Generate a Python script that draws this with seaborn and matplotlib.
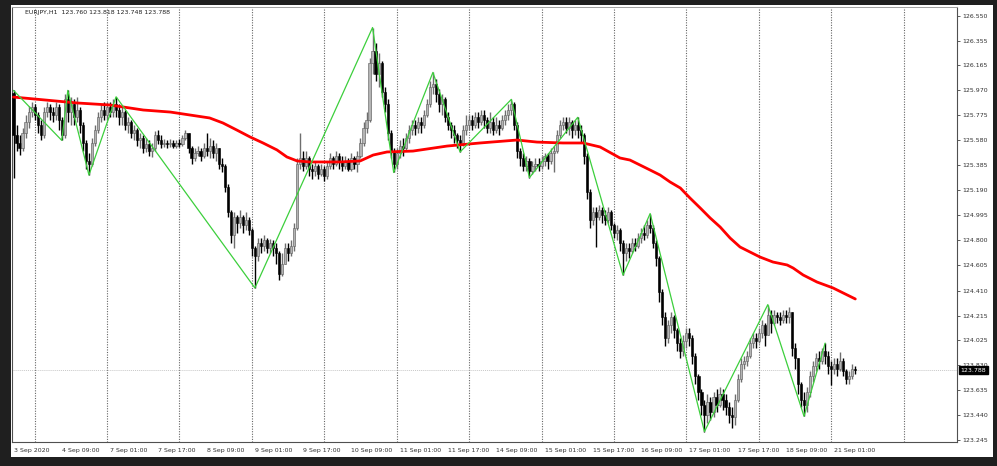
import matplotlib
matplotlib.use("Agg")
import matplotlib.pyplot as plt
import matplotlib.patches as mpatches
import matplotlib.transforms as mtransforms
import numpy as np
import pandas as pd
import seaborn as sns

# EURJPY H1 bars
first_open = 125.95
close = [
    125.62, 125.56, 125.52, 125.64, 125.72, 125.80, 125.84, 125.78, 125.70, 125.62,
    125.80, 125.84, 125.80, 125.78, 125.84, 125.74, 125.62, 125.90, 125.80, 125.86,
    125.76, 125.82, 125.70, 125.56, 125.42, 125.40, 125.56, 125.66, 125.76, 125.82,
    125.78, 125.84, 125.80, 125.86, 125.82, 125.76, 125.80, 125.70, 125.72, 125.64,
    125.66, 125.58, 125.60, 125.52, 125.55, 125.50, 125.52, 125.62, 125.58, 125.55,
    125.56, 125.55, 125.56, 125.54, 125.56, 125.55, 125.60, 125.64, 125.52, 125.44,
    125.48, 125.50, 125.46, 125.52, 125.50, 125.54, 125.48, 125.52, 125.40, 125.38,
    125.22, 125.02, 124.84, 124.98, 124.94, 124.98, 124.92, 124.96, 124.88, 124.74,
    124.68, 124.78, 124.76, 124.80, 124.74, 124.78, 124.74, 124.70, 124.54, 124.62,
    124.74, 124.70, 124.76, 124.90, 125.40, 125.44, 125.38, 125.44, 125.36, 125.34,
    125.38, 125.32, 125.36, 125.30, 125.38, 125.44, 125.40, 125.46, 125.42, 125.38,
    125.42, 125.36, 125.44, 125.40, 125.46, 125.56, 125.68, 125.74, 126.18, 126.28,
    126.10, 126.18, 125.96, 125.86, 125.64, 125.50, 125.40, 125.48, 125.54, 125.52,
    125.60, 125.66, 125.70, 125.68, 125.72, 125.70, 125.78, 125.86, 126.00, 126.02,
    125.94, 125.86, 125.90, 125.76, 125.70, 125.66, 125.62, 125.58, 125.56, 125.66,
    125.70, 125.74, 125.70, 125.76, 125.72, 125.78, 125.74, 125.68, 125.72, 125.66,
    125.70, 125.68, 125.74, 125.78, 125.82, 125.86, 125.70, 125.50, 125.44, 125.38,
    125.42, 125.34, 125.38, 125.40, 125.38, 125.42, 125.46, 125.42, 125.48, 125.50,
    125.62, 125.70, 125.72, 125.68, 125.72, 125.66, 125.70, 125.66, 125.62, 125.46,
    125.18, 124.96, 125.02, 124.98, 125.04, 125.00, 124.96, 125.02, 124.92, 124.86,
    124.88, 124.78, 124.70, 124.74, 124.72, 124.78, 124.76, 124.82, 124.86, 124.84,
    124.92, 124.90, 124.78, 124.66, 124.40, 124.20, 124.04, 124.14, 124.20, 124.10,
    124.00, 123.94, 124.02, 124.08, 124.04, 123.90, 123.74, 123.62, 123.52, 123.44,
    123.54, 123.46, 123.58, 123.52, 123.60, 123.56, 123.50, 123.44, 123.42, 123.56,
    123.72, 123.84, 123.86, 123.90, 124.00, 124.04, 124.02, 124.08, 124.14, 124.06,
    124.22, 124.16, 124.22, 124.20, 124.18, 124.22, 124.20, 124.24, 123.96, 123.88,
    123.68, 123.56, 123.52, 123.62, 123.74, 123.82, 123.88, 123.86, 123.94, 123.90,
    123.82, 123.80, 123.84, 123.80, 123.86, 123.78, 123.72, 123.74, 123.80, 123.788,
]
high = [
    125.97, 125.70, 125.62, 125.68, 125.78, 125.85, 125.88, 125.86, 125.80, 125.74,
    125.84, 125.88, 125.86, 125.84, 125.88, 125.86, 125.76, 125.94, 125.97, 125.92,
    125.90, 125.92, 125.84, 125.72, 125.58, 125.48, 125.60, 125.70, 125.80, 125.86,
    125.88, 125.88, 125.88, 125.90, 125.92, 125.86, 125.84, 125.82, 125.76, 125.74,
    125.70, 125.68, 125.64, 125.62, 125.60, 125.58, 125.56, 125.65, 125.66, 125.62,
    125.59, 125.58, 125.59, 125.58, 125.58, 125.59, 125.62, 125.66, 125.64, 125.54,
    125.52, 125.54, 125.52, 125.56, 125.64, 125.60, 125.58, 125.56, 125.52, 125.44,
    125.40, 125.24, 125.04, 125.02, 125.00, 125.04, 125.00, 125.02, 124.98, 124.90,
    124.76, 124.82, 124.82, 124.84, 124.82, 124.81, 124.80, 124.78, 124.72, 124.70,
    124.78, 124.78, 124.80, 124.94, 125.44, 125.64, 125.50, 125.50, 125.46, 125.40,
    125.42, 125.40, 125.40, 125.38, 125.42, 125.48, 125.46, 125.50, 125.48, 125.46,
    125.46, 125.44, 125.48, 125.46, 125.50, 125.60, 125.72, 125.80, 126.22, 126.46,
    126.34, 126.26, 126.20, 126.00, 125.90, 125.66, 125.52, 125.52, 125.58, 125.60,
    125.64, 125.70, 125.74, 125.74, 125.76, 125.76, 125.82, 125.90, 126.04, 126.11,
    126.06, 125.98, 125.94, 125.92, 125.80, 125.72, 125.70, 125.64, 125.62, 125.70,
    125.78, 125.78, 125.78, 125.80, 125.80, 125.82, 125.82, 125.76, 125.80, 125.76,
    125.76, 125.74, 125.78, 125.82, 125.86, 125.90, 125.88, 125.72, 125.52, 125.48,
    125.46, 125.44, 125.42, 125.44, 125.44, 125.46, 125.48, 125.48, 125.52, 125.54,
    125.66, 125.74, 125.76, 125.76, 125.76, 125.74, 125.74, 125.76, 125.70, 125.64,
    125.48, 125.20, 125.06, 125.06, 125.08, 125.06, 125.04, 125.06, 125.04, 124.94,
    124.92, 124.90, 124.80, 124.78, 124.78, 124.82, 124.82, 124.86, 124.90, 124.92,
    124.96, 125.01, 124.92, 124.80, 124.68, 124.42, 124.24, 124.18, 124.24, 124.22,
    124.12, 124.04, 124.06, 124.12, 124.12, 124.06, 123.92, 123.76, 123.64, 123.56,
    123.60, 123.58, 123.62, 123.64, 123.66, 123.64, 123.60, 123.54, 123.50, 123.60,
    123.76, 123.88, 123.90, 123.94, 124.04, 124.08, 124.08, 124.12, 124.18, 124.16,
    124.30, 124.26, 124.26, 124.24, 124.24, 124.26, 124.26, 124.28, 124.24, 124.00,
    123.86, 123.70, 123.62, 123.66, 123.78, 123.86, 123.92, 123.94, 123.96, 124.00,
    123.94, 123.86, 123.88, 123.88, 123.93, 123.88, 123.80, 123.78, 123.84, 123.82,
]
low = [
    125.29, 125.50, 125.47, 125.50, 125.60, 125.68, 125.76, 125.74, 125.64, 125.58,
    125.60, 125.76, 125.74, 125.72, 125.74, 125.66, 125.58, 125.60, 125.72, 125.70,
    125.70, 125.72, 125.64, 125.50, 125.36, 125.31, 125.38, 125.54, 125.64, 125.72,
    125.74, 125.74, 125.76, 125.76, 125.76, 125.70, 125.70, 125.66, 125.64, 125.60,
    125.58, 125.54, 125.52, 125.48, 125.49, 125.46, 125.45, 125.50, 125.55, 125.52,
    125.53, 125.52, 125.53, 125.52, 125.52, 125.53, 125.54, 125.58, 125.48, 125.40,
    125.42, 125.46, 125.42, 125.44, 125.46, 125.44, 125.44, 125.42, 125.36, 125.33,
    125.18, 124.98, 124.78, 124.74, 124.86, 124.90, 124.86, 124.88, 124.84, 124.68,
    124.43, 124.64, 124.70, 124.72, 124.70, 124.70, 124.68, 124.62, 124.49, 124.52,
    124.66, 124.64, 124.68, 124.72, 124.88, 125.36, 125.34, 125.36, 125.30, 125.28,
    125.30, 125.28, 125.30, 125.26, 125.28, 125.36, 125.36, 125.38, 125.36, 125.34,
    125.36, 125.34, 125.34, 125.36, 125.33, 125.44, 125.54, 125.64, 125.72, 126.10,
    126.04, 126.00, 125.92, 125.80, 125.58, 125.44, 125.33, 125.36, 125.44, 125.46,
    125.50, 125.56, 125.62, 125.62, 125.64, 125.64, 125.68, 125.76, 125.84, 125.94,
    125.88, 125.80, 125.78, 125.72, 125.66, 125.60, 125.56, 125.52, 125.49, 125.54,
    125.62, 125.66, 125.66, 125.68, 125.68, 125.70, 125.68, 125.64, 125.64, 125.62,
    125.64, 125.62, 125.66, 125.70, 125.74, 125.78, 125.66, 125.44, 125.38, 125.34,
    125.34, 125.29, 125.32, 125.34, 125.34, 125.36, 125.38, 125.36, 125.40, 125.33,
    125.48, 125.60, 125.66, 125.64, 125.62, 125.60, 125.62, 125.60, 125.56, 125.40,
    125.12, 124.90, 124.92, 124.75, 124.96, 124.94, 124.92, 124.94, 124.88, 124.82,
    124.80, 124.72, 124.53, 124.64, 124.66, 124.70, 124.72, 124.74, 124.78, 124.80,
    124.82, 124.86, 124.74, 124.60, 124.32, 124.14, 123.98, 124.00, 124.08, 124.04,
    123.94, 123.88, 123.90, 123.96, 123.98, 123.84, 123.68, 123.56, 123.44, 123.31,
    123.38, 123.40, 123.42, 123.46, 123.50, 123.48, 123.44, 123.38, 123.34, 123.36,
    123.54, 123.70, 123.80, 123.82, 123.88, 123.96, 123.96, 124.00, 124.04, 123.98,
    124.10, 124.08, 124.14, 124.16, 124.14, 124.16, 124.16, 124.16, 123.90, 123.80,
    123.60, 123.50, 123.43, 123.46, 123.58, 123.70, 123.78, 123.80, 123.84, 123.84,
    123.76, 123.67, 123.76, 123.74, 123.78, 123.74, 123.68, 123.68, 123.72, 123.76,
]

# red moving average, sampled along the curve
ma_bars = [0, 21, 32, 43, 52, 58.5, 65, 69.4, 74, 78.4, 82.7, 87.3, 90.6, 94, 98.3,
           108, 114.9, 119.2, 123.8, 132.4, 143.7, 154.6, 166.9, 173.5, 182.1, 188.8,
           194.4, 201, 204.3, 211, 214.3, 217.6, 221, 224.2, 227.6, 230.9, 234.2,
           237.5, 240.8, 244.1, 247.4, 251.7, 256.4, 258.4, 261.7, 266.3, 271.6, 279]
ma_vals = [125.918, 125.872, 125.856, 125.817, 125.801, 125.778, 125.755, 125.716,
           125.661, 125.607, 125.560, 125.506, 125.451, 125.420, 125.412, 125.412,
           125.420, 125.466, 125.490, 125.497, 125.536, 125.560, 125.583, 125.567,
           125.560, 125.560, 125.529, 125.443, 125.427, 125.349, 125.310, 125.256,
           125.209, 125.131, 125.053, 124.975, 124.905, 124.819, 124.749, 124.710,
           124.671, 124.632, 124.609, 124.585, 124.531, 124.476, 124.430, 124.344]

# zigzag pivots
zz_bars = [0, 16, 18, 25, 34, 80, 119, 126, 139, 148, 165, 171, 187, 202, 211, 229, 250, 262, 269]
zz_vals = [125.97, 125.58, 125.97, 125.31, 125.92, 124.43, 126.46, 125.33, 126.11, 125.49,
           125.90, 125.29, 125.76, 124.53, 125.01, 123.31, 124.30, 123.43, 124.00]

time_labels = ["3 Sep 2020", "4 Sep 09:00", "7 Sep 01:00", "7 Sep 17:00", "8 Sep 09:00",
               "9 Sep 01:00", "9 Sep 17:00", "10 Sep 09:00", "11 Sep 01:00", "11 Sep 17:00",
               "14 Sep 09:00", "15 Sep 01:00", "15 Sep 17:00", "16 Sep 09:00", "17 Sep 01:00",
               "17 Sep 17:00", "18 Sep 09:00", "21 Sep 01:00"]
price_ticks = [126.550, 126.355, 126.165, 125.970, 125.775, 125.580, 125.385, 125.190,
               124.995, 124.800, 124.605, 124.410, 124.215, 124.025, 123.830, 123.635,
               123.440, 123.245]
last_price = 123.788
header = "EURJPY,H1  123.760 123.818 123.748 123.788"

sns.set_style("white")
plt.rcParams["font.family"] = ["DejaVu Sans"]

W, H = 997, 466
fig = plt.figure(figsize=(W / 100, H / 100), dpi=100, facecolor="#1f1f1f")
fig.patches.append(mpatches.Rectangle((11 / W, 1 - 457 / H), 982 / W, 452 / H,
                                      transform=fig.transFigure, facecolor="white",
                                      edgecolor="none", zorder=-5))
ax = fig.add_axes([12 / W, 1 - 442 / H, 945 / W, 435 / H])
ax.set_zorder(2)
ax.set_facecolor("white")

df = pd.DataFrame({"close": close, "high": high, "low": low})
df["bar"] = np.arange(len(df))
df["open"] = [first_open] + close[:-1]
df["high"] = df[["high", "open", "close"]].max(axis=1)
df["low"] = df[["low", "open", "close"]].min(axis=1)
up = (df["close"] >= df["open"]).values

body_lo = df[["open", "close"]].min(axis=1)
body_h = (df["close"] - df["open"]).abs().clip(lower=0.008)

ax.vlines(df["bar"], df["low"], df["high"], colors=np.where(up, "#6e6e6e", "#000000"),
          linewidth=1.0, zorder=2)
ax.bar(df["bar"], body_h, bottom=body_lo, width=0.72,
       color=np.where(up, "#b4b4b4", "#000000"),
       edgecolor=np.where(up, "#5a5a5a", "#000000"), linewidth=0.4, zorder=3)

sns.lineplot(x=ma_bars, y=ma_vals, color="#ff0000", linewidth=2.0, ax=ax,
             sort=False, estimator=None, zorder=4)
sns.lineplot(x=zz_bars, y=zz_vals, color="#3ccf3c", linewidth=0.9, ax=ax,
             sort=False, estimator=None, zorder=5)

# day separators and bid line
for b in range(7, 313, 24):
    ax.axvline(b, color="#666666", linewidth=0.8, linestyle=(0, (1, 1.3)), zorder=1)
ax.axhline(last_price, color="#c8c8c8", linewidth=0.7, linestyle=(0, (1, 1)), zorder=1)

ax.set_xlim(-0.5, 312.7)
ax.set_ylim(123.229, 126.620)
ax.set_xlabel("")
ax.set_ylabel("")

for side in ["left", "bottom", "right"]:
    ax.spines[side].set_color("#505050")
    ax.spines[side].set_linewidth(0.8)
ax.spines["top"].set_color("#a0a0a0")
ax.spines["top"].set_linestyle((0, (1, 1)))
ax.spines["top"].set_linewidth(0.7)

ax.set_xticks(range(0, 16 * len(time_labels), 16))
ax.set_xticklabels(time_labels, ha="left", fontsize=4.5, color="#303030")
ax.tick_params(axis="x", length=2.5, width=0.6, pad=2, color="#404040")

ax.yaxis.tick_right()
ax.set_yticks(price_ticks)
ax.set_yticklabels([f"{v:.3f}" for v in price_ticks], fontsize=4.5, color="#303030")
ax.tick_params(axis="y", length=2, width=0.6, pad=2, color="#404040")

trans = mtransforms.blended_transform_factory(ax.transAxes, ax.transData)
ax.text(1.004, last_price, f"{last_price:.3f}", transform=trans, fontsize=4.5, color="white",
        va="center", ha="left", zorder=10, clip_on=False,
        bbox=dict(boxstyle="square,pad=0.25", fc="black", ec="black"))
ax.text(0.0138, 0.992, header, transform=ax.transAxes, fontsize=4.5, color="#202020",
        va="top", ha="left")

fig.savefig("out.png", dpi=100, facecolor=fig.get_facecolor())
